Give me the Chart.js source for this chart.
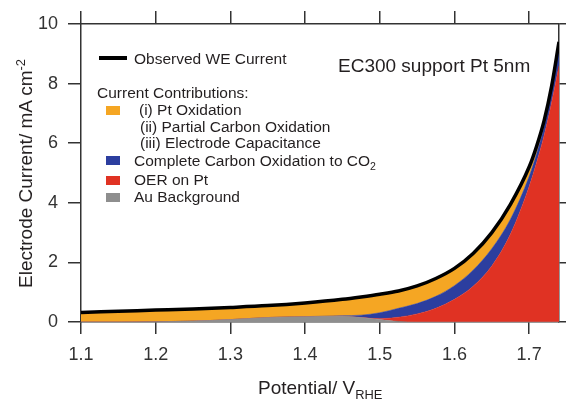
<!DOCTYPE html>
<html>
<head>
<meta charset="utf-8">
<script src="https://cdn.jsdelivr.net/npm/chart.js@4"></script>
<style>
  body { margin: 0; background: #fff; }
  #wrap { position: relative; width: 568px; height: 401px; font-family: "Liberation Sans", Arial, sans-serif; color: #231f20; }
  #wrap canvas { position: absolute; left: 0; top: 0; }
  .t { position: absolute; white-space: nowrap; line-height: 1; }
  .lg { font-size: 15.5px; }
  .sw { position: absolute; width: 14px; height: 9px; }
  sub, sup { font-size: 0.68em; line-height: 0; }
</style>
</head>
<body>
<div id="wrap">
  <canvas id="chPotential" width="568" height="401"></canvas>

  <div class="t" id="ytitle" style="font-size:19px;">Electrode Current/ mA cm<sup>-2</sup></div>
  <div class="t" id="xtitle" style="font-size:19px;">Potential/ V<sub>RHE</sub></div>

  <div class="t" style="left:338px;top:56px;font-size:19px;">EC300 support Pt 5nm</div>

  <div class="sw" style="left:99px;top:56px;width:28px;height:4px;background:#000;"></div>
  <div class="t lg" style="left:134px;top:50.5px;">Observed WE Current</div>
  <div class="t lg" style="left:97px;top:84.5px;">Current Contributions:</div>
  <div class="sw" style="left:106px;top:106px;background:#f5a623;"></div>
  <div class="t lg" style="left:139px;top:101.5px;">(i) Pt Oxidation</div>
  <div class="t lg" style="left:140px;top:119px;">(ii) Partial Carbon Oxidation</div>
  <div class="t lg" style="left:140px;top:135px;">(iii) Electrode Capacitance</div>
  <div class="sw" style="left:106px;top:156px;background:#2c3e9f;"></div>
  <div class="t lg" style="left:134px;top:152.5px;">Complete Carbon Oxidation to CO<sub>2</sub></div>
  <div class="sw" style="left:106px;top:176px;background:#e03223;"></div>
  <div class="t lg" style="left:134px;top:171.5px;">OER on Pt</div>
  <div class="sw" style="left:106px;top:193px;background:#8e8e8e;"></div>
  <div class="t lg" style="left:134px;top:189px;">Au Background</div>
</div>
<script>
// potential (V vs RHE) and current contributions (mA cm-2)
var potential   = [1.1, 1.15, 1.2, 1.25, 1.3, 1.35, 1.4, 1.45, 1.475, 1.5, 1.525, 1.55, 1.575, 1.6, 1.625, 1.65, 1.675, 1.7, 1.71, 1.72, 1.73, 1.74];
var observed    = [0.32, 0.36, 0.40, 0.44, 0.49, 0.55, 0.64, 0.76, 0.84, 0.93, 1.04, 1.21, 1.46, 1.80, 2.30, 3.0, 3.95, 5.2, 5.9, 6.75, 7.9, 9.4];
var auBackground= [0, 0, 0.01, 0.03, 0.08, 0.15, 0.18, 0.19, 0.15, 0.08, 0.02, 0, 0, 0, 0, 0, 0, 0, 0, 0, 0, 0];
var oerPt       = [0, 0, 0, 0, 0, 0, 0, 0, 0, 0.03, 0.14, 0.27, 0.46, 0.76, 1.2, 1.88, 2.95, 4.55, 5.35, 6.25, 7.35, 8.6];
var carbonCO2   = [0, 0, 0, 0, 0, 0, 0, 0.02, 0.08, 0.2, 0.3, 0.35, 0.4, 0.46, 0.54, 0.58, 0.5, 0.33, 0.3, 0.3, 0.4, 0.6];
var ptOxidation = [0.32, 0.36, 0.39, 0.41, 0.41, 0.40, 0.46, 0.55, 0.61, 0.62, 0.58, 0.59, 0.6, 0.58, 0.56, 0.54, 0.5, 0.32, 0.25, 0.2, 0.15, 0.2];
var xTicks = [1.1, 1.2, 1.3, 1.4, 1.5, 1.6, 1.7];
var yTicks = [0, 2, 4, 6, 8, 10];

var box = {left: 81, top: 24, right: 9, bottom: 79};
var axisColor = '#333';

function pts(arr) {
    return potential.map(function(x, i){ return {x: x, y: arr[i]}; });
}
function area(label, arr, color, fill) {
    return {
        label: label, data: pts(arr), stack: 'parts', order: 1,
        fill: fill, backgroundColor: color, borderColor: color, borderWidth: 0.5,
        pointRadius: 0, cubicInterpolationMode: 'monotone'
    };
}
function axis(pos, id, ticks, min, max, showLabels, len, size) {
    return {
        type: 'linear', position: pos, min: min, max: max,
        display: true, stacked: (id === 'y'),
        border: {display: true, color: axisColor, width: 1.5},
        grid: {drawOnChartArea: false, drawTicks: true, tickLength: len, color: axisColor, lineWidth: 1.5},
        ticks: {
            display: showLabels, color: axisColor, padding: (id === 'x' ? 10 : 10),
            font: {family: 'Liberation Sans', size: 18},
            callback: function(v){ return (id === 'x') ? v.toFixed(1) : v; }
        },
        afterBuildTicks: function(s){ s.ticks = ticks.map(function(v){ return {value: v}; }); },
        afterFit: function(s){
            if (pos === 'left' || pos === 'right') s.width = size; else s.height = size;
        }
    };
}

var chPotential = new Chart(document.getElementById('chPotential'), {
    type: 'line',
    data: {
        datasets: [
            {
                label: 'Observed WE Current', data: pts(observed), stack: 'total', order: 0,
                fill: false, borderColor: '#000', borderWidth: 3.5, pointRadius: 0,
                cubicInterpolationMode: 'monotone'
            },
            area('Au Background', auBackground, '#8e8e8e', 'origin'),
            area('OER on Pt', oerPt, '#e03223', '-1'),
            area('Complete Carbon Oxidation to CO2', carbonCO2, '#2c3e9f', '-1'),
            area('Pt Oxidation', ptOxidation, '#f5a623', '-1')
        ]
    },
    options: {
        responsive: false,
        animation: false,
        layout: {padding: 0},
        plugins: {legend: {display: false}, tooltip: {enabled: false}},
        scales: {
            x: axis('bottom', 'x', xTicks, 1.1, 1.74, true, 12, box.bottom),
            x2: axis('top', 'x2', xTicks, 1.1, 1.74, false, 13, box.top),
            y: axis('left', 'y', yTicks, 0, 10, true, 13, box.left),
            y2: axis('right', 'y2', yTicks, 0, 10, false, 7, box.right)
        }
    }
});

// place the axis titles relative to the chart area
var ca = chPotential.chartArea;
var xt = document.getElementById('xtitle');
xt.style.left = ((ca.left + ca.right) / 2 - xt.offsetWidth / 2) + 'px';
xt.style.top = '378px';
var yt = document.getElementById('ytitle');
yt.style.left = (25 - yt.offsetWidth / 2) + 'px';
yt.style.top = ((ca.top + ca.bottom) / 2 - yt.offsetHeight / 2) + 'px';
yt.style.transform = 'rotate(-90deg)';
</script>
</body>
</html>
